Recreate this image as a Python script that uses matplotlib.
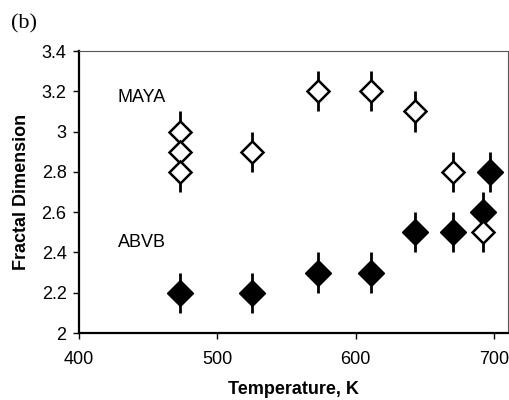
import matplotlib
matplotlib.use('Agg')
import matplotlib.pyplot as plt

plt.rcParams['font.family'] = ['Liberation Sans', 'DejaVu Sans']

# MAYA (open diamonds)
maya_t = [473, 473, 473, 525, 573, 611, 643, 670, 692]
maya_d = [3.0, 2.9, 2.8, 2.9, 3.2, 3.2, 3.1, 2.8, 2.5]
# ABVB (filled diamonds)
abvb_t = [473, 525, 573, 611, 643, 670, 692, 697]
abvb_d = [2.2, 2.2, 2.3, 2.3, 2.5, 2.5, 2.6, 2.8]
err = 0.1

fig = plt.figure(figsize=(5.1, 4.0), dpi=100)
ax = fig.add_axes([0.155, 0.1675, 0.841, 0.705])

ax.errorbar(abvb_t, abvb_d, yerr=err, fmt='D', color='black', ms=13.2,
			mfc='black', mec='black', elinewidth=2, capsize=0, zorder=3)
ax.errorbar(maya_t, maya_d, yerr=err, fmt='D', color='black', ms=11.7,
			mfc='white', mec='black', mew=1.8, elinewidth=2, capsize=0, zorder=4)

ax.text(428, 3.167, 'MAYA', fontsize=13, va='center')
ax.text(428, 2.447, 'ABVB', fontsize=13, va='center')

ax.set_xlim(400, 710)
ax.set_ylim(2, 3.4)
ax.set_xticks([400, 500, 600, 700])
ax.set_yticks([2, 2.2, 2.4, 2.6, 2.8, 3, 3.2, 3.4])
ax.set_yticklabels(['2', '2.2', '2.4', '2.6', '2.8', '3', '3.2', '3.4'])
ax.tick_params(direction='out', length=4, width=1, labelsize=13, pad=5)
ax.tick_params(axis='x', pad=9)

for s in ['left', 'bottom']:
	ax.spines[s].set_linewidth(1.6)
for s in ['top', 'right']:
	ax.spines[s].set_linewidth(0.8)
	ax.spines[s].set_color('#555555')

ax.set_xlabel('Temperature, K', fontsize=13, fontweight='bold')
ax.set_ylabel('Fractal Dimension', fontsize=13, fontweight='bold')
ax.xaxis.set_label_coords(0.5, -0.202)
ax.xaxis.label.set_va('center')
ax.yaxis.set_label_coords(-0.135, 0.5)
ax.yaxis.label.set_va('center')

fig.text(0.022, 0.94, '(b)', fontsize=16, family='Liberation Serif', va='center')

fig.savefig('out.png', dpi=100)
